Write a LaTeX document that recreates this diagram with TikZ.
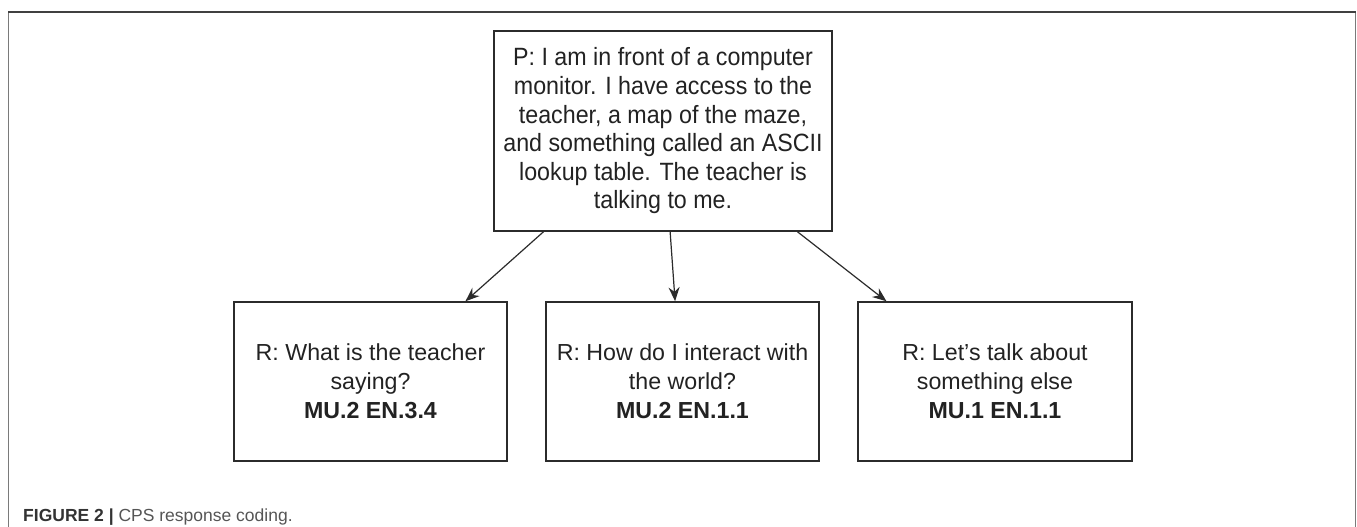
\documentclass[tikz,border=0pt]{standalone}
\usepackage{fontspec}
\setmainfont{Liberation Sans}
\newfontfamily\condfont[FakeStretch=0.93]{Liberation Sans}
\usetikzlibrary{arrows.meta,calc}
\definecolor{boxline}{HTML}{2B2B2B}
\definecolor{txt}{HTML}{222222}
\definecolor{framegray}{HTML}{7A7A7A}
\definecolor{frametop}{HTML}{404040}
\definecolor{capbold}{HTML}{333333}
\definecolor{capreg}{HTML}{555555}
\tikzset{
  box/.style={draw=boxline, line width=1.5pt, rectangle, inner sep=0pt, align=center,
    text=txt, font=\fontsize{23.2}{29}\selectfont},
  topbox/.style={box, font=\condfont\fontsize{25}{28.6}\selectfont},
  conn/.style={draw=boxline, line width=1.2pt, -{Stealth[length=14pt,width=11pt]}},
}
\begin{document}
\begin{tikzpicture}[x=1pt,y=-1pt]
\useasboundingbox (0,0) rectangle (1357,527);
% outer frame
\draw[framegray, line width=1.8pt] (8.5,527) -- (8.5,12);
\draw[framegray, line width=1.8pt] (1355.5,527) -- (1355.5,12);
\draw[frametop, line width=1.4pt] (8,12) -- (1356,12);
% nodes
\node[topbox, minimum width=338pt, minimum height=200pt] (top) at (663,131)
  {P: I am in front of a computer\\ monitor. I have access to the\\ teacher, a map of the maze,\\ and something called an ASCII\\ lookup table. The teacher is\\ talking to me.};
\node[box, minimum width=273pt, minimum height=159pt] (b1) at (370.5,381.5)
  {R: What is the teacher\\ saying?\\ \textbf{MU.2 EN.3.4}};
\node[box, minimum width=273pt, minimum height=159pt] (b2) at (682.5,381.5)
  {R: How do I interact with\\ the world?\\ \textbf{MU.2 EN.1.1}};
\node[box, minimum width=274pt, minimum height=159pt] (b3) at (995,381.5)
  {R: Let’s talk about\\ something else\\ \textbf{MU.1 EN.1.1}};
% connectors
\draw[conn] ($(top.south west)!0.148!(top.south east)$) -- ($(b1.north west)!0.846!(b1.north east)$);
\draw[conn] ($(top.south west)!0.521!(top.south east)$) -- ($(b2.north west)!0.473!(b2.north east)$);
\draw[conn] ($(top.south west)!0.896!(top.south east)$) -- ($(b3.north west)!0.106!(b3.north east)$);
% caption
\node[anchor=base west, inner sep=0pt, font=\fontsize{17.5}{20}\selectfont] (cap) at (23,521.5)
  {\textcolor{capbold}{\bfseries FIGURE 2 |} \textcolor{capreg}{CPS response coding.}};
\end{tikzpicture}
\end{document}
